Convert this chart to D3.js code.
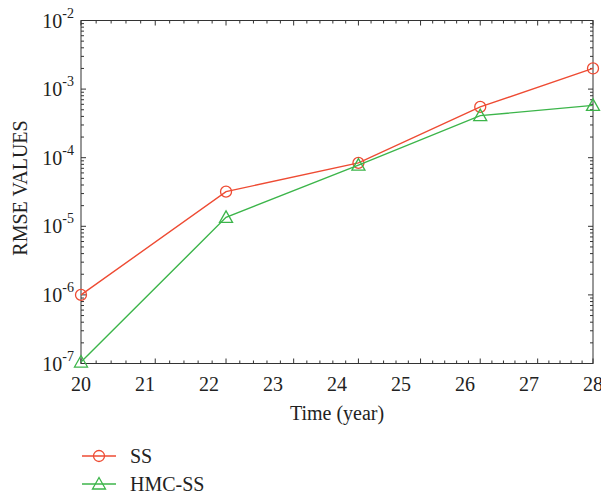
<!DOCTYPE html>
<html><head><meta charset="utf-8">
<script src="https://cdn.jsdelivr.net/npm/d3@7"></script>
<style>body{margin:0;background:#fff}svg{display:block}text{font-family:"Liberation Serif","DejaVu Serif",serif;fill:#222}</style>
</head><body>
<svg id="c" width="601" height="498"></svg>
<script>
const years = [20, 22, 24, 26, 28];
const ssValues = [1.0e-6, 3.2e-5, 8.4e-5, 5.5e-4, 2.0e-3];
const hmcValues = [1.05e-7, 1.35e-5, 7.8e-5, 4.1e-4, 5.8e-4];
const xTickLabels = [20, 21, 22, 23, 24, 25, 26, 27, 28];
const yExponents = [-7, -6, -5, -4, -3, -2];
const seriesNames = ["SS", "HMC-SS"];
const colors = ["#ee4b33", "#3cb54a"];

const svg = d3.select("#c");
const L = 81, R = 593, T = 20.5, B = 363.5;
const x = d3.scaleLog().domain([20, 28]).range([L, R]);
const xLab = d3.scaleLinear().domain([20, 28]).range([L, R]);
const y = d3.scaleLog().domain([1e-7, 1e-2]).range([B, T]);

const g = svg.append("g");
const xMajor = d3.range(20, 28.001, 1);
const xMinor = d3.range(20, 28.001, 0.2).filter(v => Math.abs(v - Math.round(v)) > 1e-6);
const yMajor = yExponents.map(e => Math.pow(10, e));
const yMinor = [];
yExponents.slice(0, -1).forEach(e => { for (let k = 2; k <= 9; k++) yMinor.push(k * Math.pow(10, e)); });

const tk = g.append("g").attr("stroke", "#333").attr("stroke-width", 1);
xMajor.forEach(v => {
  tk.append("line").attr("x1", x(v)).attr("x2", x(v)).attr("y1", B).attr("y2", B - 5);
  tk.append("line").attr("x1", x(v)).attr("x2", x(v)).attr("y1", T).attr("y2", T + 5);
});
xMinor.forEach(v => {
  tk.append("line").attr("x1", x(v)).attr("x2", x(v)).attr("y1", B).attr("y2", B - 3);
  tk.append("line").attr("x1", x(v)).attr("x2", x(v)).attr("y1", T).attr("y2", T + 3);
});
yMajor.forEach(v => {
  tk.append("line").attr("y1", y(v)).attr("y2", y(v)).attr("x1", L).attr("x2", L + 5);
  tk.append("line").attr("y1", y(v)).attr("y2", y(v)).attr("x1", R).attr("x2", R - 5);
});
yMinor.forEach(v => {
  tk.append("line").attr("y1", y(v)).attr("y2", y(v)).attr("x1", L).attr("x2", L + 3);
  tk.append("line").attr("y1", y(v)).attr("y2", y(v)).attr("x1", R).attr("x2", R - 3);
});
g.append("rect").attr("x", L).attr("y", T).attr("width", R - L).attr("height", B - T)
  .attr("fill", "none").attr("stroke", "#333").attr("stroke-width", 1);

xTickLabels.forEach(v => {
  g.append("text").attr("x", xLab(v)).attr("y", B + 27).attr("text-anchor", "middle")
    .attr("font-size", 20).text(v);
});
yExponents.forEach(e => {
  const t = g.append("text").attr("x", 74).attr("y", y(Math.pow(10, e)) + 7).attr("text-anchor", "end").attr("font-size", 20);
  t.append("tspan").text("10");
  t.append("tspan").attr("font-size", 14).attr("dy", -10).text("-" + Math.abs(e));
});
g.append("text").attr("x", (L + R) / 2).attr("y", 420).attr("text-anchor", "middle").attr("font-size", 20).text("Time (year)");
g.append("text").attr("transform", `translate(27,188) rotate(-90)`).attr("text-anchor", "middle").attr("font-size", 20).text("RMSE VALUES");

const series = [ssValues, hmcValues];
const line = d3.line().x((d, i) => x(years[i])).y(d => y(d));
function marker(sel, k, cx, cy) {
  if (k === 0) sel.append("circle").attr("cx", cx).attr("cy", cy).attr("r", 5.5)
    .attr("fill", "none").attr("stroke", colors[k]).attr("stroke-width", 1.3);
  else sel.append("path").attr("d", `M${cx},${cy - 6.5}L${cx + 6.5},${cy + 5}L${cx - 6.5},${cy + 5}Z`)
    .attr("fill", "none").attr("stroke", colors[k]).attr("stroke-width", 1.3);
}
series.forEach((s, k) => {
  g.append("path").datum(s).attr("d", line).attr("fill", "none").attr("stroke", colors[k]).attr("stroke-width", 1.4);
  s.forEach((d, i) => marker(g, k, x(years[i]), y(d)));
});

seriesNames.forEach((n, k) => {
  const ly = 456 + k * 28;
  g.append("line").attr("x1", 82).attr("x2", 116).attr("y1", ly).attr("y2", ly).attr("stroke", colors[k]).attr("stroke-width", 1.4);
  marker(g, k, 99, ly);
  g.append("text").attr("x", 130).attr("y", ly + 7).attr("font-size", 20).text(n);
});
</script>
</body></html>
